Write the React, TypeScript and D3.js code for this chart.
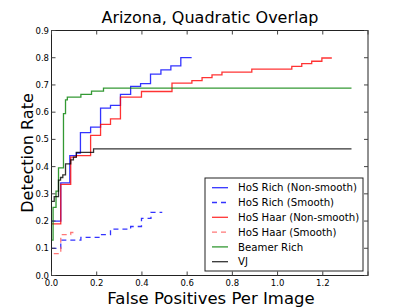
import React from 'react';
import * as d3 from 'd3';

// step curves: level y[i] holds from x[i] until x[i+1]
const hosRichNsX = [0, 0.041, 0.081, 0.11, 0.128, 0.173, 0.217, 0.261, 0.305, 0.35, 0.394, 0.438, 0.484, 0.528, 0.572, 0.62];
const hosRichNsY = [0.2, 0.34, 0.44, 0.45, 0.525, 0.545, 0.615, 0.625, 0.665, 0.695, 0.705, 0.74, 0.755, 0.77, 0.8, 0.8];

const hosRichSmX = [0, 0.041, 0.13, 0.217, 0.261, 0.35, 0.398, 0.44, 0.49];
const hosRichSmY = [0.1, 0.13, 0.14, 0.15, 0.17, 0.18, 0.21, 0.232, 0.232];

const hosHaarNsX = [0, 0.041, 0.085, 0.11, 0.173, 0.217, 0.261, 0.305, 0.398, 0.533, 0.621, 0.666, 0.71, 0.754, 0.886, 1.063, 1.107, 1.151, 1.196, 1.24];
const hosHaarNsY = [0.19, 0.335, 0.435, 0.44, 0.515, 0.555, 0.575, 0.655, 0.676, 0.707, 0.716, 0.727, 0.737, 0.747, 0.758, 0.768, 0.778, 0.787, 0.799, 0.799];

const hosHaarSmX = [0.01, 0.041, 0.085, 0.097];
const hosHaarSmY = [0.08, 0.15, 0.158, 0.158];

const beamerX = [0, 0.007, 0.02, 0.031, 0.053, 0.062, 0.07, 0.13, 0.177, 0.23, 1.327];
const beamerY = [0.13, 0.25, 0.31, 0.395, 0.595, 0.645, 0.655, 0.665, 0.677, 0.688, 0.688];

const vjX = [0, 0.012, 0.031, 0.04, 0.05, 0.062, 0.085, 0.097, 0.11, 0.186, 1.327];
const vjY = [0.272, 0.29, 0.35, 0.36, 0.37, 0.41, 0.425, 0.435, 0.452, 0.465, 0.465];

const xTicks = [0, 0.2, 0.4, 0.6, 0.8, 1.0, 1.2, 1.4];
const xTickLabels = ['0.0', '0.2', '0.4', '0.6', '0.8', '1.0', '1.2', ''];
const yTicks = [0, 0.1, 0.2, 0.3, 0.4, 0.5, 0.6, 0.7, 0.8, 0.9];

const series = [
  { name: 'HoS Rich (Non-smooth)', xs: hosRichNsX, ys: hosRichNsY, color: '#0000ff', dash: null },
  { name: 'HoS Rich (Smooth)', xs: hosRichSmX, ys: hosRichSmY, color: '#0000ff', dash: '5,4' },
  { name: 'HoS Haar (Non-smooth)', xs: hosHaarNsX, ys: hosHaarNsY, color: '#ff0000', dash: null },
  { name: 'HoS Haar (Smooth)', xs: hosHaarSmX, ys: hosHaarSmY, color: '#ff5555', dash: '5,4' },
  { name: 'Beamer Rich', xs: beamerX, ys: beamerY, color: '#008000', dash: null },
  { name: 'VJ', xs: vjX, ys: vjY, color: '#000000', dash: null },
];

const font = 'DejaVu Sans, sans-serif';

export default function App() {
  const width = 409;
  const height = 307;
  const left = 51.5;
  const right = 368;
  const top = 30.5;
  const bottom = 275.5;

  const x = d3.scaleLinear().domain([0, 1.4]).range([left, right]);
  const y = d3.scaleLinear().domain([0, 0.9]).range([bottom, top]);

  const line = d3
    .line<[number, number]>()
    .x(d => x(d[0]))
    .y(d => y(d[1]))
    .curve(d3.curveStepAfter);

  const legendX = 205;
  const legendY = 178;
  const rowH = 14.8;

  return (
    <svg
      width={width}
      height={height}
      style={{ position: 'absolute', left: 0, top: 0, background: '#fff' }}
    >
      <rect width={width} height={height} fill="#fff" />
      <text x={210} y={23} textAnchor="middle" fontFamily={font} fontSize={16}>
        Arizona, Quadratic Overlap
      </text>

      {series.map(s => (
        <path
          key={s.name}
          d={line(s.xs.map((v, i) => [v, s.ys[i]] as [number, number])) || ''}
          fill="none"
          stroke={s.color}
          strokeOpacity={0.8}
          strokeWidth={1.3}
          strokeDasharray={s.dash || undefined}
        />
      ))}

      {/* frame and inward ticks */}
      <rect x={left} y={top} width={right - left} height={bottom - top} fill="none" stroke="#222" strokeWidth={1} />
      {xTicks.map((t, i) => (
        <g key={'x' + i} stroke="#444">
          <line x1={x(t)} x2={x(t)} y1={bottom} y2={bottom - 4} />
          <line x1={x(t)} x2={x(t)} y1={top} y2={top + 4} />
        </g>
      ))}
      {yTicks.map((t, i) => (
        <g key={'y' + i} stroke="#444">
          <line x1={left} x2={left + 4} y1={y(t)} y2={y(t)} />
          <line x1={right} x2={right - 4} y1={y(t)} y2={y(t)} />
        </g>
      ))}
      {xTicks.map((t, i) => (
        <text key={'xl' + i} x={x(t)} y={285.5} textAnchor="middle" fontFamily={font} fontSize={8.5}>
          {xTickLabels[i]}
        </text>
      ))}
      {yTicks.map((t, i) => (
        <text key={'yl' + i} x={49} y={y(t) + 3} textAnchor="end" fontFamily={font} fontSize={8.5}>
          {t.toFixed(1)}
        </text>
      ))}

      <text x={211} y={303.5} textAnchor="middle" fontFamily={font} fontSize={16.5}>
        False Positives Per Image
      </text>
      <text
        transform={`translate(33,153) rotate(-90)`}
        textAnchor="middle"
        fontFamily={font}
        fontSize={16}
      >
        Detection Rate
      </text>

      {/* legend */}
      <rect x={legendX} y={legendY} width={158} height={93} fill="#fff" stroke="#222" strokeWidth={1} />
      {series.map((s, i) => {
        const ry = legendY + 9.7 + i * rowH;
        return (
          <g key={'lg' + i}>
            <line
              x1={legendX + 7}
              x2={legendX + 23}
              y1={ry}
              y2={ry}
              stroke={s.color}
              strokeOpacity={0.8}
              strokeWidth={1.3}
              strokeDasharray={s.dash || undefined}
            />
            <text x={legendX + 33} y={ry + 3.6} fontFamily={font} fontSize={10.2}>
              {s.name}
            </text>
          </g>
        );
      })}
    </svg>
  );
}
